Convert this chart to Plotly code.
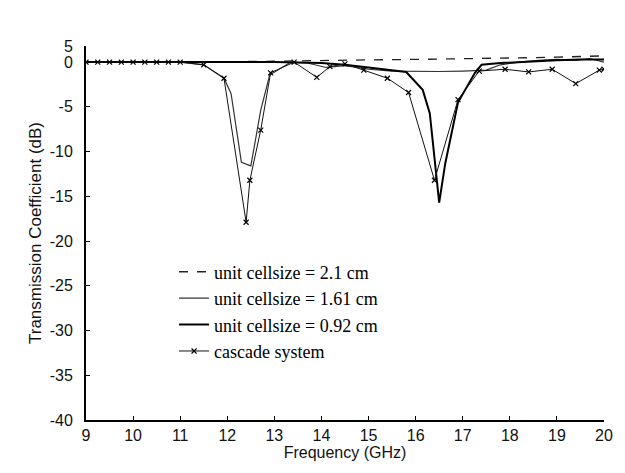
import plotly.graph_objects as go

# ---- data ----
freq_21 = [9, 10, 11, 12, 13, 13.5, 14, 15, 16, 17, 18, 18.5, 19, 19.5, 20]
s21_21 = [0, 0, 0, 0.05, 0.1, 0.15, 0.2, 0.25, 0.3, 0.35, 0.45, 0.5, 0.55, 0.6, 0.7]

freq_161 = [9, 10, 11, 11.5, 11.93, 12.08, 12.3, 12.5, 12.71, 12.9, 13.35, 13.7, 14.1, 14.5, 15.0, 15.5, 16.0, 16.5, 17.0, 17.5, 17.8, 18.2, 18.6, 19.0, 19.4, 19.7, 20]
s21_161 = [0, 0, 0, -0.3, -1.8, -3.5, -11.2, -11.6, -5.4, -1.45, 0.0, -0.1, -0.6, -0.4, -0.8, -1.0, -1.05, -1.05, -1.0, -0.9, -0.3, 0.0, 0.2, 0.3, 0.2, 0.4, 0.0]

freq_092 = [9, 10, 11, 12, 13, 14, 14.5, 15.0, 15.5, 15.8, 16.15, 16.3, 16.36, 16.42, 16.5, 16.63, 16.9, 17.26, 17.4, 17.8, 18.5, 19.0, 19.5, 20]
s21_092 = [0, 0, 0, 0, 0, -0.1, -0.3, -0.6, -0.9, -1.1, -3.1, -5.7, -8.7, -12.0, -15.7, -11.3, -4.5, -1.2, -0.3, -0.1, 0.1, 0.2, 0.3, 0.3]

freq_cas = [9, 9.25, 9.5, 9.75, 10, 10.25, 10.5, 10.75, 11, 11.5, 11.93, 12.4, 12.48, 12.71, 12.92, 13.42, 13.9, 14.18, 14.5, 14.9, 15.4, 15.85, 16.4, 16.9, 17.35, 17.9, 18.4, 18.9, 19.4, 19.9, 20]
s21_cas = [0, 0, 0, 0, 0, 0, 0, 0, 0, -0.3, -1.8, -17.9, -13.2, -7.6, -1.2, 0.0, -1.7, -0.5, -0.2, -0.9, -1.8, -3.4, -13.2, -4.2, -1.0, -0.8, -1.1, -0.8, -2.4, -0.9, -0.8]

names = ["unit cellsize = 2.1 cm", "unit cellsize = 1.61 cm",
         "unit cellsize = 0.92 cm", "cascade system"]

x_ticks = list(range(9, 21))
y_tickvals = [-40, -35, -30, -25, -20, -15, -10, -5, 0, 1.8]
y_ticktext = ["-40", "-35", "-30", "-25", "-20", "-15", "-10", "-5", "0", "5"]

fig = go.Figure()
fig.add_trace(go.Scatter(x=freq_21, y=s21_21, mode="lines", name=names[0],
                         line=dict(color="#222", width=1.3, dash="dash")))
fig.add_trace(go.Scatter(x=freq_161, y=s21_161, mode="lines", name=names[1],
                         line=dict(color="#333", width=1.2)))
fig.add_trace(go.Scatter(x=freq_092, y=s21_092, mode="lines", name=names[2],
                         line=dict(color="#000", width=2)))
fig.add_trace(go.Scatter(x=freq_cas, y=s21_cas, mode="lines+markers", name=names[3],
                         line=dict(color="#111", width=1),
                         marker=dict(symbol="x-thin", size=5, color="#000",
                                     line=dict(width=1.2, color="#000"))))

fig.update_layout(
    width=625, height=473,
    margin=dict(l=86, r=14, t=46, b=53),
    paper_bgcolor="white", plot_bgcolor="white",
    font=dict(family="Liberation Sans, Arial", size=16, color="#111"),
    showlegend=True,
    legend=dict(x=0.17, y=0.445, xanchor="left", yanchor="top",
                bgcolor="rgba(0,0,0,0)", borderwidth=0,
                font=dict(family="Liberation Serif, Times New Roman", size=18, color="#000"),
                tracegroupgap=0),
    xaxis=dict(range=[9, 20], tickvals=x_ticks, ticktext=[str(v) for v in x_ticks],
               showgrid=False, zeroline=False, showline=True, linecolor="#000", linewidth=2,
               ticks="inside", ticklen=4, tickcolor="#000",
               tickfont=dict(size=16),
               title=dict(text="Frequency (GHz)", standoff=2,
                          font=dict(size=16))),
    yaxis=dict(range=[-40, 1.8], tickvals=y_tickvals, ticktext=y_ticktext,
               showgrid=False, zeroline=False, showline=True, linecolor="#000", linewidth=2,
               ticks="inside", ticklen=4, tickcolor="#000", ticklabelstandoff=8,
               tickfont=dict(size=16),
               title=dict(text="Transmission Coefficient (dB)", standoff=4,
                          font=dict(size=17))),
)

fig.write_html("out.html")
